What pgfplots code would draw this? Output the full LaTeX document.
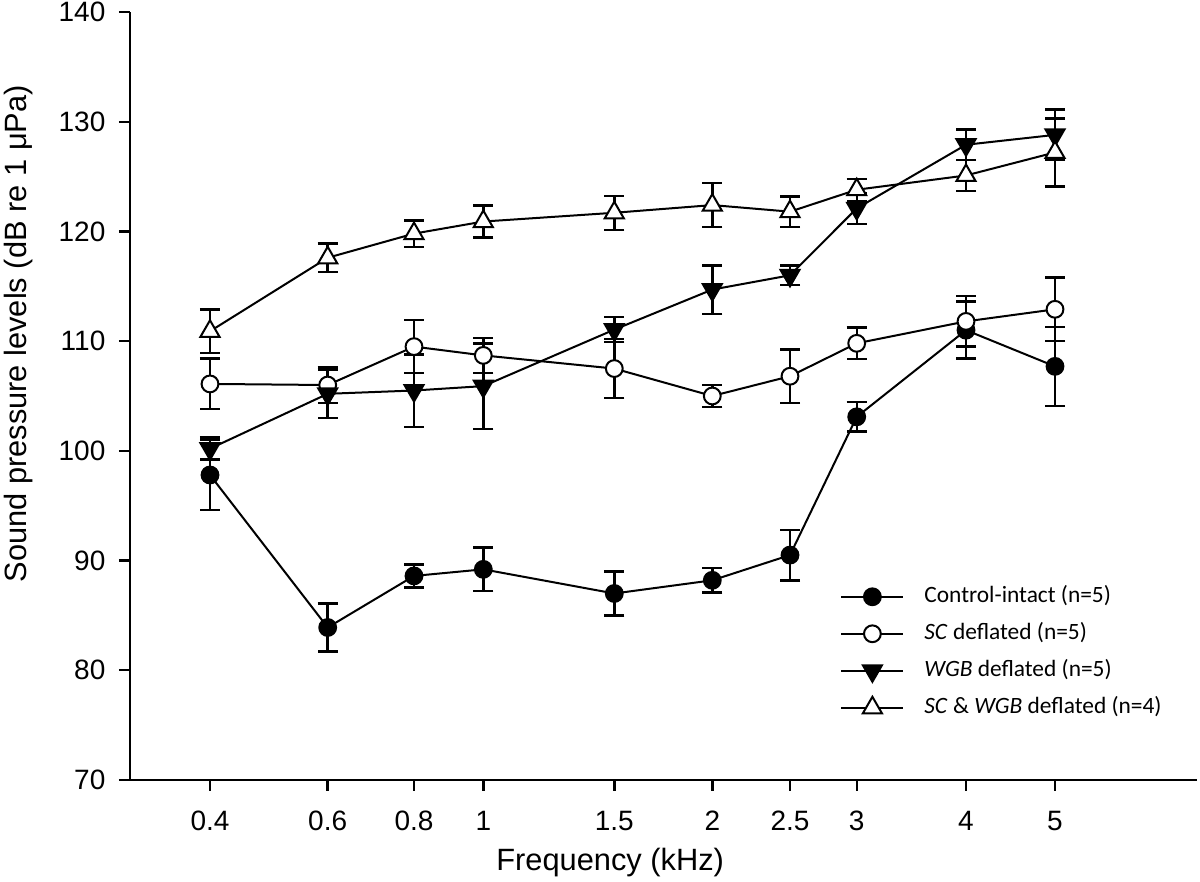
\documentclass[border=0pt]{standalone}
\usepackage{fontspec}
\setmainfont{Liberation Sans}
\newfontfamily\legendfont{Carlito}
\usepackage{pgfplots}
\pgfplotsset{compat=1.18}

\pgfplotstableread{
x      c     ce    s      se    w      we    t      te
210    97.8  3.2   106.1  2.3   100.2  1.0   110.9  2.0
327.7  83.9  2.2   106.0  1.65  105.2  2.2   117.6  1.3
414    88.6  1.05  109.5  2.4   105.5  3.3   119.8  1.2
483.3  89.2  2.0   108.7  1.6   105.9  3.9   120.9  1.45
614.3  87.0  2.0   107.5  2.7   111.05 1.15  121.7  1.55
712.3  88.2  1.1   105.0  1.0   114.7  2.2   122.4  2.0
790    90.5  2.3   106.8  2.45  116.0  0.9   121.8  1.4
856.7  103.1 1.35  109.8  1.45  122.1  1.4   123.8  1.0
966    111.0 2.6   111.8  2.3   127.9  1.4   125.1  1.4
1055   107.7 3.6   112.9  2.9   128.8  2.3   127.2  3.1
}\datatable

\begin{document}
\begin{tikzpicture}
\begin{axis}[
  at={(0,0)}, anchor=south west,
  scale only axis, width=533.5pt, height=384pt,
  xmin=130, xmax=1197, ymin=70, ymax=140,
  axis x line*=bottom, axis y line*=left,
  axis line style={line width=1.2pt,-},
  tick style={line width=1.2pt, black},
  tick align=outside, major tick length=5.5pt,
  xtick={210,327.7,414,483.3,614.3,712.3,790,856.7,966,1055},
  xticklabels={0.4,0.6,0.8,1,1.5,2,2.5,3,4,5},
  ytick={70,80,...,140},
  /pgf/number format/assume math mode=true,
  xticklabel style={font=\fontsize{14}{16}\selectfont, yshift=-6.5pt},
  yticklabel style={font=\fontsize{14}{16}\selectfont, xshift=-3.3pt},
  xlabel={Frequency (kHz)},
  ylabel={Sound pressure levels (dB re 1 μPa)},
  xlabel style={font=\fontsize{15.4}{17}\selectfont, at={(axis description cs:0.45,0)}, anchor=north, yshift=-30.6pt},
  ylabel style={font=\fontsize{15.4}{17}\selectfont, at={(axis description cs:0,0.581)}, anchor=center, yshift=55.5pt},
  every axis plot/.append style={line width=1pt, black},
  error bars/y dir=both, error bars/y explicit,
  error bars/error bar style={line width=1.2pt, black},
  error bars/error mark options={rotate=90, mark size=5pt, line width=1.2pt, black},
  legend style={draw=none, fill=none, at={(axis cs:840,87.83)}, anchor=north west,
    inner sep=0pt, row sep=6.5pt, column sep=10pt,
    font=\legendfont\fontsize{11.7}{13}\selectfont,
    nodes={inner sep=0pt, text height=9pt, text depth=3pt}},
  legend cell align=left,
  legend image code/.code={\draw[mark repeat=2, mark phase=2, #1] plot coordinates {(0pt,0pt) (15.5pt,0pt) (31pt,0pt)};},
]
\addplot[mark=*, mark size=4.2pt, mark options={fill=black, line width=1pt}]
  table[x=x, y=c, y error=ce] {\datatable};
\addlegendentry{Control-intact (n=5)}
\addplot[mark=*, mark size=4.2pt, mark options={fill=white, line width=1pt}]
  table[x=x, y=s, y error=se] {\datatable};
\addlegendentry{\textit{SC} deflated (n=5)}
\addplot[mark=triangle*, mark size=5.5pt, mark options={fill=black, rotate=180, line width=1pt}]
  table[x=x, y=w, y error=we] {\datatable};
\addlegendentry{\textit{WGB} deflated (n=5)}
\addplot[mark=triangle*, mark size=5.5pt, mark options={fill=white, line width=1pt}]
  table[x=x, y=t, y error=te] {\datatable};
\addlegendentry{\textit{SC} \& \textit{WGB} deflated (n=4)}
\end{axis}
\pgfresetboundingbox
\useasboundingbox (-65pt,-51pt) rectangle (535pt,390pt);
\end{tikzpicture}
\end{document}
